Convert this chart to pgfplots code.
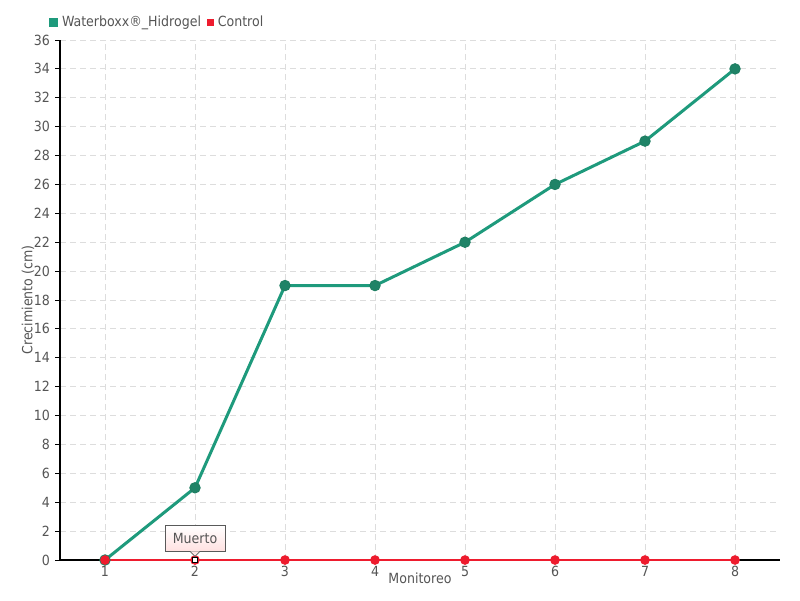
\documentclass[border=0pt]{standalone}
\usepackage{fontspec}
\setmainfont{DejaVu Sans Condensed}
\usepackage{pgfplots}
\pgfplotsset{compat=1.18}
\usetikzlibrary{calc}

\definecolor{teal1}{HTML}{1E9A7C}
\definecolor{tealdark}{HTML}{1F7F63}
\definecolor{ctrl}{HTML}{EE1C2E}
\definecolor{txt}{HTML}{555555}
\definecolor{gridc}{HTML}{DDDDDD}

\begin{document}
\begin{tikzpicture}
\begin{axis}[
    scale only axis,
    width=360pt, height=260pt,
    xmin=0.5, xmax=8.5,
    ymin=0, ymax=36,
    xtick={1,...,8},
    ytick={0,2,...,36},
    axis x line=bottom, axis y line=left,
    axis line style={-, black, line width=0.6pt},
    x tick style={draw=none},
    y tick style={black, line width=0.5pt},
    tick align=outside,
    major tick length=2.5pt,
    grid=major,
    grid style={gridc, dash pattern=on 3pt off 2pt, line width=0.4pt},
    ticklabel style={font=\fontsize{7}{8}\selectfont, text=txt},
    yticklabel style={xshift=1pt},
    xticklabel style={yshift=3pt},
    /pgf/number format/assume math mode=true,
    xlabel={Monitoreo},
    ylabel={Crecimiento (cm)},
    label style={font=\fontsize{7}{8}\selectfont, text=txt},
    xlabel style={yshift=9pt},
    ylabel style={yshift=-7pt},
    clip=false,
    legend columns=2,
    legend style={draw=none, fill=none, at={(rel axis cs:0,1)}, anchor=south west,
        xshift=-5.5pt, yshift=3pt, font=\fontsize{7}{8}\selectfont, text=txt,
        /tikz/every even column/.append style={column sep=1pt},
        inner sep=0pt},
    legend cell align=left,
    legend image code/.code={\fill[#1] (0pt,-1.4pt) rectangle (2.8pt,1.4pt);},
]
\coordinate (sw) at (rel axis cs:0,0);
\coordinate (ne) at (rel axis cs:1,1);
\coordinate (p2) at (axis cs:2,0);

\addplot[teal1, line width=1.5pt, mark=*, mark size=2.6pt,
    mark options={fill=tealdark!85!teal1, draw=tealdark, line width=0.5pt}]
coordinates {
    (1,0) (2,5) (3,19) (4,19) (5,22) (6,26) (7,29) (8,34)
};
\addlegendentry{Waterboxx®\_Hidrogel}

\addplot[ctrl, line width=0.6pt, mark=*, mark size=2.1pt,
    mark options={fill=ctrl, draw=ctrl}]
coordinates {
    (1,0) (2,0) (3,0) (4,0) (5,0) (6,0) (7,0) (8,0)
};
\addlegendentry{Control}

\addplot[forget plot, only marks, mark=square*, mark size=1.3pt,
    mark options={fill=white, draw=black, line width=0.5pt}]
coordinates {(2,0)};
\end{axis}

% tooltip
\node[draw=gray!70!black, line width=0.4pt, top color=white, bottom color=red!12,
    minimum width=30pt, minimum height=13pt, inner sep=1pt, anchor=south,
    font=\fontsize{7}{8}\selectfont, text=txt] (m) at ([yshift=4pt]p2) {Muerto};
\fill[red!10] ([xshift=-2.2pt,yshift=0.3pt]m.south) -- ([yshift=1.8pt]p2) -- ([xshift=2.2pt,yshift=0.3pt]m.south) -- cycle;
\draw[gray!70!black, line width=0.4pt] ([xshift=-2.2pt]m.south) -- ([yshift=1.8pt]p2) -- ([xshift=2.2pt]m.south);

\pgfresetboundingbox
\path[use as bounding box] ($(sw)+(-30pt,-20pt)$) rectangle ($(ne)+(10pt,20pt)$);
\end{tikzpicture}
\end{document}
